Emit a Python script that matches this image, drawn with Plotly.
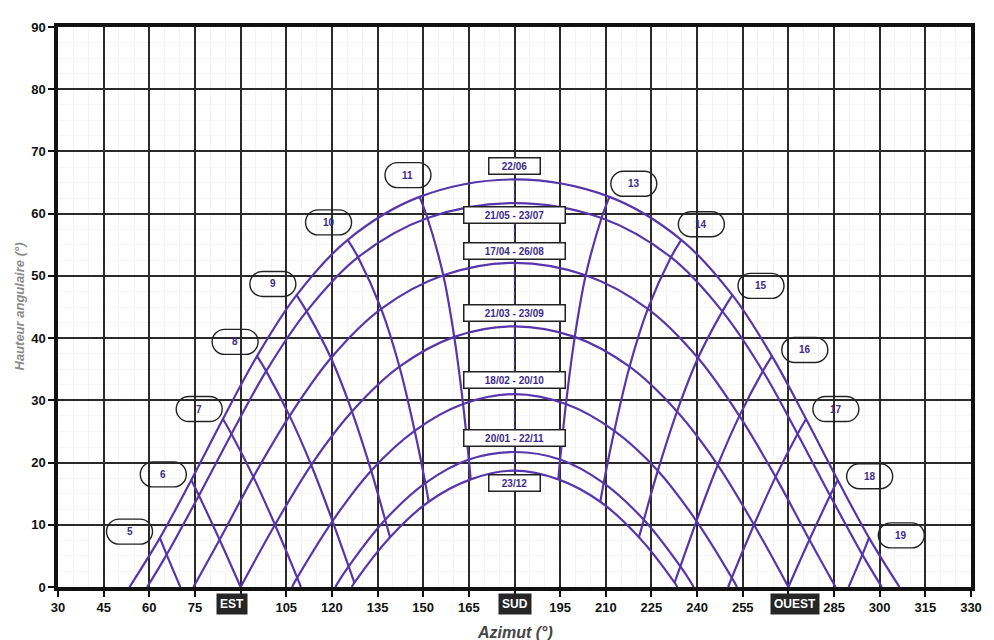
import plotly.graph_objects as go

LINE = "#5636aa"
TXT = "#3d2b86"
FONT = "Liberation Sans, Arial, sans-serif"

# ---------------- data ----------------
date_names = ["22/06", "21/05 - 23/07", "17/04 - 26/08", "21/03 - 23/09",
              "18/02 - 20/10", "20/01 - 22/11", "23/12"]
date_label_alt = [67.6, 59.8, 54.0, 44.0, 33.2, 24.0, 16.7]
date_label_w = [48, 98, 98, 98, 98, 98, 48]

hr_d1 = [None, 5, 6, 7, 8, 9, 10, 11, 12, 13, 14, 15, 16, 17, 18, 19, None]
az_d1 = [53.5, 63.5, 73.8, 84.2, 95.4, 108.4, 125.2, 148.8, 180.0, 211.2, 234.8, 251.6, 264.6, 275.8, 286.2, 296.5, 306.5]
alt_d1 = [0.0, 7.9, 17.2, 27.0, 37.1, 46.9, 55.8, 62.7, 65.5, 62.7, 55.8, 46.9, 37.1, 27.0, 17.2, 7.9, 0.0]

hr_d2 = [None, 5, 6, 7, 8, 9, 10, 11, 12, 13, 14, 15, 16, 17, 18, 19, None]
az_d2 = [59.3, 65.7, 76.3, 87.0, 98.4, 111.7, 128.6, 151.4, 180.0, 208.6, 231.4, 248.3, 261.6, 273.0, 283.7, 294.3, 300.7]
alt_d2 = [0.0, 5.2, 14.7, 24.6, 34.7, 44.3, 53.0, 59.3, 61.7, 59.3, 53.0, 44.3, 34.7, 24.6, 14.7, 5.2, 0.0]

hr_d3 = [None, 6, 7, 8, 9, 10, 11, 12, 13, 14, 15, 16, 17, 18, None]
az_d3 = [74.5, 83.1, 94.2, 106.1, 119.7, 136.2, 156.6, 180.0, 203.4, 223.8, 240.3, 253.9, 265.8, 276.9, 285.5]
alt_d3 = [0.0, 7.6, 17.7, 27.5, 36.8, 44.7, 50.1, 52.1, 50.1, 44.7, 36.8, 27.5, 17.7, 7.6, 0.0]

hr_d4 = [6, 7, 8, 9, 10, 11, 12, 13, 14, 15, 16, 17, 18]
az_d4 = [90.0, 101.3, 113.2, 126.6, 142.2, 160.2, 180.0, 199.8, 217.8, 233.4, 246.8, 258.7, 270.0]
alt_d4 = [0.0, 10.0, 19.6, 28.2, 35.4, 40.2, 41.9, 40.2, 35.4, 28.2, 19.6, 10.0, 0.0]

hr_d5 = [None, 7, 8, 9, 10, 11, 12, 13, 14, 15, 16, 17, None]
az_d5 = [106.9, 108.6, 120.2, 132.9, 147.2, 163.1, 180.0, 196.9, 212.8, 227.1, 239.8, 251.4, 253.1]
alt_d5 = [0.0, 1.5, 10.6, 18.7, 25.1, 29.4, 31.0, 29.4, 25.1, 18.7, 10.6, 1.5, 0.0]

hr_d6 = [None, 8, 9, 10, 11, 12, 13, 14, 15, 16, None]
az_d6 = [121.1, 125.5, 137.5, 150.7, 165.0, 180.0, 195.0, 209.3, 222.5, 234.5, 238.9]
alt_d6 = [0.0, 3.3, 10.8, 16.7, 20.5, 21.7, 20.5, 16.7, 10.8, 3.3, 0.0]

hr_d7 = [None, 8, 9, 10, 11, 12, 13, 14, 15, 16, None]
az_d7 = [126.5, 127.4, 139.1, 151.8, 165.6, 180.0, 194.4, 208.2, 220.9, 232.6, 233.5]
alt_d7 = [0.0, 0.7, 8.0, 13.7, 17.3, 18.7, 17.3, 13.7, 8.0, 0.7, 0.0]

# where some hour lines meet the horizon
horizon_hours = [5, 7, 17, 19]
horizon_az = [70.2, 109.8, 250.2, 289.8]

hour_label_text = ["5", "6", "7", "8", "9", "10", "11", "13", "14", "15", "16", "17", "18", "19"]
hour_label_az = [53.5, 64.6, 76.4, 88.2, 100.6, 118.9, 145.0, 219.2, 241.4, 261.0, 275.4, 285.6, 296.7, 307.1]
hour_label_alt = [8.9, 18.1, 28.6, 39.4, 48.7, 58.6, 66.2, 64.8, 58.3, 48.4, 38.1, 28.6, 17.8, 8.3]

x_ticks = [30, 45, 60, 75, 90, 105, 120, 135, 150, 165, 180, 195, 210, 225, 240, 255, 270, 285, 300, 315, 330]
x_tick_text = ["30", "45", "60", "75", "", "105", "120", "135", "150", "165", "", "195", "210",
               "225", "240", "255", "", "285", "300", "315", "330"]
cardinal_text = ["EST", "SUD", "OUEST"]
cardinal_az = [90, 180, 270]
cardinal_shift = [-9, 0, 7]
y_ticks = [0, 10, 20, 30, 40, 50, 60, 70, 80, 90]

# ----------------------------------------------------------
curves = [(hr_d1, az_d1, alt_d1), (hr_d2, az_d2, alt_d2), (hr_d3, az_d3, alt_d3),
          (hr_d4, az_d4, alt_d4), (hr_d5, az_d5, alt_d5), (hr_d6, az_d6, alt_d6),
          (hr_d7, az_d7, alt_d7)]

fig = go.Figure()

for name, (hr, az, alt) in zip(date_names, curves):
    fig.add_trace(go.Scatter(x=az, y=alt, mode="lines", name=name,
                             line=dict(color=LINE, width=2.2, shape="spline"),
                             hoverinfo="skip", showlegend=False))

# hour lines
all_hours = sorted({h for hr, _, _ in curves for h in hr if h is not None})
for h in all_hours:
    xs, ys = [], []
    for hr, az, alt in curves:
        for hh, a, b in zip(hr, az, alt):
            if hh == h:
                xs.append(a)
                ys.append(b)
    if h in horizon_hours:
        xs.append(horizon_az[horizon_hours.index(h)])
        ys.append(0)
    if h == 12:
        fig.add_trace(go.Scatter(x=xs, y=ys, mode="lines", showlegend=False, hoverinfo="skip",
                                 line=dict(color=LINE, width=1.3, dash="4px,3px")))
    else:
        fig.add_trace(go.Scatter(x=xs, y=ys, mode="lines", showlegend=False, hoverinfo="skip",
                                 line=dict(color=LINE, width=2.2, shape="spline")))

annotations = []
shapes = []

# date label boxes
for name, a, w in zip(date_names, date_label_alt, date_label_w):
    annotations.append(dict(x=180, y=a, xref="x", yref="y", text="<b>%s</b>" % name,
                            showarrow=False, font=dict(family=FONT, size=10, color=TXT),
                            bgcolor="white", bordercolor="#222", borderwidth=1.5,
                            width=w, height=13, borderpad=1))

# hour label stadium outlines
stadium = ("M -10.5,-12.5 L 10.5,-12.5 C 17.4,-12.5 23,-6.9 23,0 C 23,6.9 17.4,12.5 10.5,12.5 "
           "L -10.5,12.5 C -17.4,12.5 -23,6.9 -23,0 C -23,-6.9 -17.4,-12.5 -10.5,-12.5 Z")
for t, a, b in zip(hour_label_text, hour_label_az, hour_label_alt):
    shapes.append(dict(type="path", xref="x", yref="y", xsizemode="pixel", ysizemode="pixel",
                       xanchor=a, yanchor=b, path=stadium, layer="above",
                       line=dict(color="#222", width=1.4)))
    annotations.append(dict(x=a, y=b, xref="x", yref="y", text="<b>%s</b>" % t, showarrow=False,
                            font=dict(family=FONT, size=10, color=TXT)))

# cardinal labels
for t, a, s in zip(cardinal_text, cardinal_az, cardinal_shift):
    annotations.append(dict(x=a, y=0, xref="x", yref="paper", yanchor="top", yshift=-6, xshift=s,
                            text="<b>%s</b>" % t, showarrow=False, bgcolor="#262626",
                            font=dict(family=FONT, size=12, color="white"), borderpad=3))

# axis titles
annotations.append(dict(x=0.5, y=0, xref="paper", yref="paper", yanchor="top", yshift=-35,
                        text="<b><i>Azimut (°)</i></b>", showarrow=False,
                        font=dict(family=FONT, size=16, color="#444")))
annotations.append(dict(x=0, y=0.5, xref="paper", yref="paper", xanchor="right", xshift=-30,
                        text="<b><i>Hauteur angulaire (°)</i></b>", showarrow=False, textangle=-90,
                        font=dict(family=FONT, size=13, color="#8a8a8a")))

fig.update_layout(
    width=986, height=632,
    margin=dict(l=50, r=18, t=12, b=53),
    paper_bgcolor="white", plot_bgcolor="white",
    annotations=annotations, shapes=shapes,
    xaxis=dict(range=[30, 330], tickvals=x_ticks, ticktext=["<b>%s</b>" % t for t in x_tick_text],
               showgrid=True, gridcolor="#2a2a2a", gridwidth=1.6, zeroline=False,
               showline=True, linecolor="#111", linewidth=3.5, mirror=True,
               ticks="outside", ticklen=6, tickwidth=2, tickcolor="#111",
               tickfont=dict(family=FONT, size=13, color="#111"),
               minor=dict(dtick=5, showgrid=True, gridcolor="#f3f3f3", gridwidth=1)),
    yaxis=dict(range=[0, 90], tickvals=y_ticks, ticktext=["<b>%d</b>" % v for v in y_ticks],
               showgrid=True, gridcolor="#2a2a2a", gridwidth=1.6, zeroline=False,
               showline=True, linecolor="#111", linewidth=3.5, mirror=True,
               ticks="outside", ticklen=6, tickwidth=2, tickcolor="#111",
               tickfont=dict(family=FONT, size=13, color="#111"),
               minor=dict(dtick=2.5, showgrid=True, gridcolor="#f5f5f5", gridwidth=1)),
)

fig.write_html("out.html")
